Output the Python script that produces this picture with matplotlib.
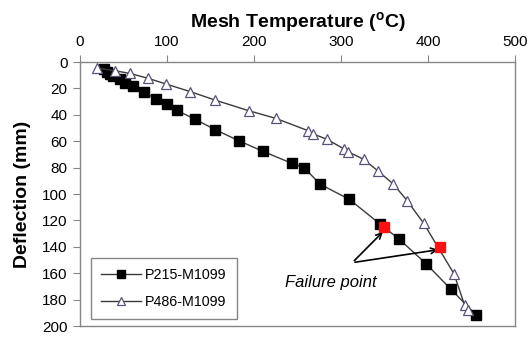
import numpy as np
import matplotlib
matplotlib.use('Agg')
import matplotlib.pyplot as plt

plt.rcParams['font.family'] = ['Liberation Sans', 'DejaVu Sans']
plt.rcParams['mathtext.fontset'] = 'custom'
plt.rcParams['mathtext.rm'] = 'Liberation Sans'
plt.rcParams['mathtext.bf'] = 'Liberation Sans:bold'

### Data
p215_temp = [27.6, 30.7, 34.5, 38.3, 46, 51.7, 60.6, 73.6, 87, 99.7, 111.1, 131.8,
             155.5, 183.1, 210.3, 243.3, 257.5, 276.2, 309.5, 344.8, 367, 397.7,
             426.4, 454.8]
p215_defl = [5.5, 7.3, 9.1, 10.6, 13.1, 16.1, 18.2, 23, 27.8, 32, 36.6, 43.2,
             51.3, 59.8, 67.7, 76.7, 80, 92.7, 104, 122.7, 134.3, 152.8,
             172.2, 191.4]

p486_temp = [19, 40, 57, 78, 99, 127, 155, 194, 225, 262, 268, 284, 303, 308,
             326, 342, 360, 376, 395, 430, 442, 446]
p486_defl = [4.5, 6.6, 8.6, 12.3, 16.7, 22.5, 28.8, 36.9, 42.7, 52, 54.5, 58.6,
             65.7, 68, 73.7, 82.3, 92.4, 105, 122.2, 160.6, 184.1, 187.9]

fail_temp = [349.4, 413.8]
fail_defl = [125.2, 139.9]

x_ticks = [0, 100, 200, 300, 400, 500]
y_ticks = [0, 20, 40, 60, 80, 100, 120, 140, 160, 180, 200]

### Figure
fig = plt.figure(figsize=(5.28, 3.38), dpi=100)
ax = fig.add_axes([80/528, 1-326/338, 435/528, 264/338])

line_col = '#3a3a3a'
ax.plot(p215_temp, p215_defl, color=line_col, lw=1, marker='s', ms=6.5,
        mfc='black', mec='black', label='P215-M1099', zorder=3)
ax.plot(p486_temp, p486_defl, color=line_col, lw=1, marker='^', ms=7,
        mfc='white', mec='#5c5078', mew=0.9, label='P486-M1099', zorder=3)
ax.plot(fail_temp, fail_defl, ls='none', marker='s', ms=7, mfc='#ff1010',
        mec='#ff1010', zorder=4)

# failure point arrows
for fx, fy in zip(fail_temp, fail_defl):
    ax.annotate('', xy=(fx + 1, fy + 2), xytext=(313, 152),
                arrowprops=dict(arrowstyle='->', color='black', lw=1.2))
ax.text(288, 167, 'Failure point', style='italic', fontsize=12,
        ha='center', va='center')

ax.set_xlim(0, 500)
ax.set_ylim(200, 0)
ax.set_xticks(x_ticks)
ax.set_yticks(y_ticks)
ax.xaxis.tick_top()
ax.xaxis.set_label_position('top')
ax.tick_params(direction='out', length=5, color='#868686', labelsize=11,
               pad=4)
for s in ax.spines.values():
    s.set_color('#868686')
    s.set_linewidth(1)

ax.set_xlabel('Mesh Temperature ($\\mathbf{^o}$C)', fontsize=14,
              fontweight='bold', labelpad=6)
ax.set_ylabel('Deflection (mm)', fontsize=14, fontweight='bold', labelpad=8)

leg = ax.legend(loc='lower left', bbox_to_anchor=(0.025, 0.027),
                borderaxespad=0, fontsize=10.3, handlelength=2.8,
                labelspacing=0.9, markerscale=0.8, fancybox=False,
                edgecolor='#868686', framealpha=1, borderpad=0.7,
                handletextpad=0.3)
leg.get_frame().set_linewidth(1)

fig.savefig('out.png', dpi=100)
